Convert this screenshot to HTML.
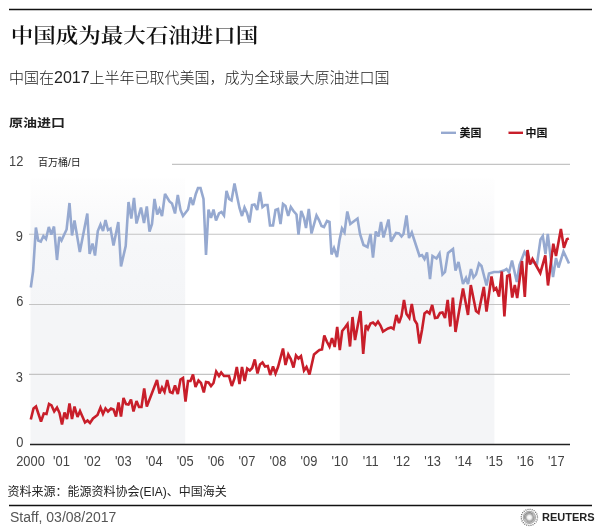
<!DOCTYPE html>
<html><head><meta charset="utf-8"><style>
html,body{margin:0;padding:0;background:#fff;}
body{width:600px;height:532px;position:relative;overflow:hidden;}
.t{position:absolute;white-space:nowrap;}
#title{left:10.8px;top:17.5px;font:600 22.5px "Liberation Serif","Noto Serif CJK SC",serif;color:#111;transform:scaleY(0.9);transform-origin:0 17px;}
#sub{left:9px;top:65.5px;font:300 15px "Liberation Sans","Noto Sans CJK SC",sans-serif;color:#222;}
#sub b{font-weight:normal;font-size:16px;color:#222;}
#lbl{left:9px;top:112px;font:bold 14px "Liberation Sans","Noto Sans CJK SC",sans-serif;color:#222;transform:scaleY(0.85);transform-origin:0 11px;}
svg{position:absolute;left:0;top:0;}
.ax text{font:14.3px "Liberation Sans","Noto Sans CJK SC",sans-serif;fill:#444;}
</style></head><body>
<svg width="600" height="532" viewBox="0 0 600 532">
<line x1="9" y1="9.5" x2="592" y2="9.5" stroke="#111" stroke-width="1.5"/>
<defs><linearGradient id="sg" gradientUnits="userSpaceOnUse" x1="0" y1="178.5" x2="0" y2="444"><stop offset="0" stop-color="#fefefe"/><stop offset="0.1" stop-color="#fbfbfc"/><stop offset="0.25" stop-color="#f6f7f9"/><stop offset="0.5" stop-color="#f4f5f7"/><stop offset="1" stop-color="#f4f5f7"/></linearGradient></defs>
<rect x="30.5" y="178.5" width="154.7" height="265.5" fill="url(#sg)"/>
<rect x="339.8" y="178.5" width="154.6" height="265.5" fill="url(#sg)"/>
<g stroke="#c4c4c4" stroke-width="1.1">
<line x1="172" y1="164.4" x2="570" y2="164.4"/>
<line x1="29" y1="234.3" x2="570" y2="234.3"/>
<line x1="29" y1="304.5" x2="570" y2="304.5"/>
<line x1="29" y1="374.4" x2="570" y2="374.4"/>
</g>
<polyline fill="none" stroke="#96a9d0" stroke-width="2.6" stroke-linejoin="miter" stroke-miterlimit="3" points="30.8,287.5 33.1,271 35.9,227.5 38.2,240.5 40.8,241.5 43.4,236 46.0,239 48.8,227 51.3,234.5 54.0,226.5 57.0,260 59.3,237 61.5,240.5 64.0,235 66.6,229.5 69.5,203 72.0,235.5 74.5,220.5 79.8,252 87.3,213.5 89.6,254 92.5,243.5 95.0,255.5 97.8,231 100.5,224.5 103.0,231 105.5,220 108.0,230 110.5,228.5 113.5,245.5 118.3,222 121.0,266.5 125.7,246 128.5,202 131.3,218.5 134.0,198 136.5,223.5 141.0,207.5 144.0,223 146.8,206.5 149.5,231.5 152.0,224 154.5,199 157.2,214.5 159.5,209 162.0,216 165.0,194 169.5,201.5 172.0,203.5 175.0,213.5 177.8,195 180.5,210 183.0,216 188.0,209.5 190.5,197.5 193.0,205 195.8,194 198.0,188 200.5,188 203.5,199 206.0,255 208.5,209.5 211.0,218 213.5,209.5 216.0,220.5 219.0,213.5 221.5,212 224.0,215.5 226.5,191 229.0,199 231.5,200.5 234.5,183.5 237.0,196 239.5,208 242.0,216 244.5,207.5 247.0,213 249.5,222.5 252.0,205 254.5,204.5 257.2,210 260.0,192 262.5,207 265.0,205 267.5,205 270.0,225.5 273.0,225.5 275.5,210 278.0,209 280.5,224 283.0,204 285.5,206 288.2,216 290.8,207 293.5,211 296.5,214.5 298.5,234.5 301.2,211 304.0,218 306.0,228 308.8,209 311.5,233.5 316.5,215.5 319.0,220 321.5,226 324.0,227 327.0,221 329.5,222 331.5,254.5 334.0,248 337.0,257 339.5,240 342.0,228.5 344.5,232.5 347.3,211.5 350.3,224 357.5,218.5 360.0,234 363.5,245 367.5,247 370.5,234 373.0,257.5 375.8,231.5 378.5,236.5 381.0,222 383.5,237.5 388.5,219.5 391.0,241.5 396.0,233 399.0,233.5 401.5,236.5 403.5,234 406.5,215.5 409.0,238 411.8,232.5 419.5,256 422.0,255 424.5,259 427.0,252.5 430.0,279 432.5,256 436.5,258.5 439.5,253.5 442.5,274.5 445.0,272 448.0,253 453.0,249 455.5,270.5 458.5,262 463.0,284 466.0,278 468.0,284 471.0,269 473.5,277.5 476.0,274.5 479.0,263.5 481.5,266 486.5,285.5 489.0,273.5 494.0,272 499.0,272 504.0,270.5 506.5,269 509.0,272.5 512.0,260.5 516.8,282 519.5,265 522.0,258.5 524.5,252 527.5,257 530.0,263 534.0,262 537.0,264 540.5,239.5 542.8,236 545.5,254 547.8,234 553.0,277 556.0,258 558.5,267.5 563.5,251.5 569.0,263.5"/>
<polyline fill="none" stroke="#c81e2a" stroke-width="2.6" stroke-linejoin="miter" stroke-miterlimit="3" points="30.8,419.5 33.5,408.5 36.0,406.5 41.0,421.5 43.8,413.5 46.5,414 49.0,404 51.5,405.5 54.2,411.5 57.0,407.5 59.5,413 62.0,424.5 64.5,412.5 67.0,419 69.5,403.5 72.0,419 74.5,406.5 77.5,417 80.0,411 85.0,422.5 87.5,420.5 90.0,423 93.0,418.5 97.5,415 100.5,407.5 103.0,414 105.5,408.5 108.0,411.5 111.0,408.5 113.5,409.5 116.0,416.5 118.5,402.5 121.0,416.5 123.5,398 126.0,404 128.5,404.5 131.0,399.5 133.5,411.5 136.5,401 139.0,407 141.5,407 144.2,388.5 146.8,406.5 157.0,380 159.5,393.5 162.0,387.5 164.5,392 167.2,380 170.0,392 172.5,393 175.0,385.5 177.8,394 180.5,379.5 183.0,378 185.5,401.5 188.0,381 190.5,381 193.0,374.5 195.5,387 198.5,380.5 201.0,383 203.8,392.5 206.0,382 208.5,382.5 211.0,386 213.5,383 216.2,371.5 219.0,376 221.2,372.5 224.0,376 229.0,376 231.8,386 234.5,378.5 236.8,367 239.5,384 242.0,367 244.7,381 247.2,368.5 249.8,370.5 252.2,368 254.8,359.5 257.5,373.5 260.0,364.5 262.5,362.5 265.0,366.5 267.8,366 270.2,375 273.0,366.5 275.5,373.5 278.0,367 283.0,348.5 285.5,365 288.3,354.5 290.8,359 293.5,367.5 296.0,355.5 298.5,358.5 301.0,356 304.0,370.5 306.5,367 309.5,374.5 314.0,354.5 317.5,351.5 319.5,350 322.0,349.5 324.3,335.5 326.8,341.5 329.5,346.5 332.0,338 334.7,347 337.2,327 339.8,350 342.2,331 345.0,327.5 347.5,324 350.0,346.5 352.5,317 355.0,340 360.5,311 363.2,354 365.8,325 368.0,329 370.5,323.5 373.0,322.5 375.5,325 378.0,321.5 380.5,325.5 383.0,331.5 388.0,328.5 391.0,327.5 393.5,329 396.4,315 399.0,323 401.5,316 404.0,300 406.5,314 409.3,318 411.8,304 414.5,320 417.0,324 419.5,343.5 422.0,330 424.5,313.5 427.0,311.5 429.5,313.5 432.2,305 435.0,318 437.5,317.5 440.0,313 442.5,312.5 445.0,318 447.7,300 450.3,326.5 452.9,297.5 455.5,332 463.0,288.5 468.0,315 470.8,285 476.0,311 478.5,313 483.8,287 486.5,311.5 491.5,276.5 494.0,290 496.2,288 499.0,296.5 501.8,271.5 504.4,316.5 507.2,276 509.7,275 512.2,297.5 514.8,285 517.2,298 522.0,261 524.8,297 527.5,250 530.0,264.5 532.5,259 540.3,273 545.3,255.3 548.0,285.5 553.3,243.7 556.0,256 560.9,229 563.9,247.8 566.9,239.2 568.8,238.4"/>
<line x1="30" y1="444.5" x2="570" y2="444.5" stroke="#222" stroke-width="1.6"/>
<g class="ax" text-anchor="end">
<text transform="matrix(0.9,0,0,1,23.3,166)">12</text>
<text transform="matrix(0.9,0,0,1,23,241.2)">9</text>
<text transform="matrix(0.9,0,0,1,23.5,306.2)">6</text>
<text transform="matrix(0.9,0,0,1,23,381.5)">3</text>
<text transform="matrix(0.9,0,0,1,23.5,446.5)">0</text>
</g>
<text x="38" y="166" style="font:10px 'Liberation Sans','Noto Sans CJK SC',sans-serif;fill:#222">百万桶/日</text>
<g class="ax">
<text transform="matrix(0.9,0,0,1,30.5,466)" text-anchor="middle">2000</text>
<text transform="matrix(0.9,0,0,1,61.4,466)" text-anchor="middle">'01</text>
<text transform="matrix(0.9,0,0,1,92.4,466)" text-anchor="middle">'02</text>
<text transform="matrix(0.9,0,0,1,123.3,466)" text-anchor="middle">'03</text>
<text transform="matrix(0.9,0,0,1,154.2,466)" text-anchor="middle">'04</text>
<text transform="matrix(0.9,0,0,1,185.2,466)" text-anchor="middle">'05</text>
<text transform="matrix(0.9,0,0,1,216.1,466)" text-anchor="middle">'06</text>
<text transform="matrix(0.9,0,0,1,247.0,466)" text-anchor="middle">'07</text>
<text transform="matrix(0.9,0,0,1,277.9,466)" text-anchor="middle">'08</text>
<text transform="matrix(0.9,0,0,1,308.9,466)" text-anchor="middle">'09</text>
<text transform="matrix(0.9,0,0,1,339.8,466)" text-anchor="middle">'10</text>
<text transform="matrix(0.9,0,0,1,370.7,466)" text-anchor="middle">'11</text>
<text transform="matrix(0.9,0,0,1,401.7,466)" text-anchor="middle">'12</text>
<text transform="matrix(0.9,0,0,1,432.6,466)" text-anchor="middle">'13</text>
<text transform="matrix(0.9,0,0,1,463.5,466)" text-anchor="middle">'14</text>
<text transform="matrix(0.9,0,0,1,494.4,466)" text-anchor="middle">'15</text>
<text transform="matrix(0.9,0,0,1,525.4,466)" text-anchor="middle">'16</text>
<text transform="matrix(0.9,0,0,1,556.3,466)" text-anchor="middle">'17</text>
</g>
<line x1="441" y1="132.8" x2="456" y2="132.8" stroke="#96a9d0" stroke-width="2.4"/>
<text x="459.5" y="136.5" style="font:bold 11px 'Liberation Sans','Noto Sans CJK SC',sans-serif;fill:#111">美国</text>
<line x1="508.5" y1="132.8" x2="523" y2="132.8" stroke="#c81e2a" stroke-width="2.4"/>
<text x="525.5" y="136.5" style="font:bold 11px 'Liberation Sans','Noto Sans CJK SC',sans-serif;fill:#111">中国</text>
<line x1="9" y1="505.5" x2="592" y2="505.5" stroke="#111" stroke-width="1.5"/>
<text x="7.5" y="496.3" style="font:12px 'Liberation Sans','Noto Sans CJK SC',sans-serif;fill:#222">资料来源：能源资料协会(EIA)、中国海关</text>
<text x="10" y="522" style="font:14px 'Liberation Sans',sans-serif;fill:#555">Staff, 03/08/2017</text>
<defs><radialGradient id="lg" cx="0.5" cy="0.5" r="0.5"><stop offset="0" stop-color="#ffffff"/><stop offset="0.3" stop-color="#f0f0f0"/><stop offset="0.55" stop-color="#a8a8a8"/><stop offset="0.8" stop-color="#c4c4c4"/><stop offset="1" stop-color="#9a9a9a"/></radialGradient></defs>
<g transform="translate(529.4,517.4)">
<circle r="8.1" fill="none" stroke="#555" stroke-width="1.3" stroke-dasharray="0.9 1.22"/>
<circle r="6.6" fill="url(#lg)"/>
<path d="M-4.5,1.5 A4.7,4.7 0 0 1 3.5,-3.2" fill="none" stroke="#8c8c8c" stroke-width="1"/>
<path d="M4.5,-1 A4.7,4.7 0 0 1 -2.5,4.2" fill="none" stroke="#9a9a9a" stroke-width="1"/>
</g>
<text x="542" y="521" style="font:bold 11px 'Liberation Sans',sans-serif;fill:#222">REUTERS</text>
</svg>
<div class="t" id="title">中国成为最大石油进口国</div>
<div class="t" id="sub">中国在<b>2017</b>上半年已取代美国，成为全球最大原油进口国</div>
<div class="t" id="lbl">原油进口</div>
</body></html>
